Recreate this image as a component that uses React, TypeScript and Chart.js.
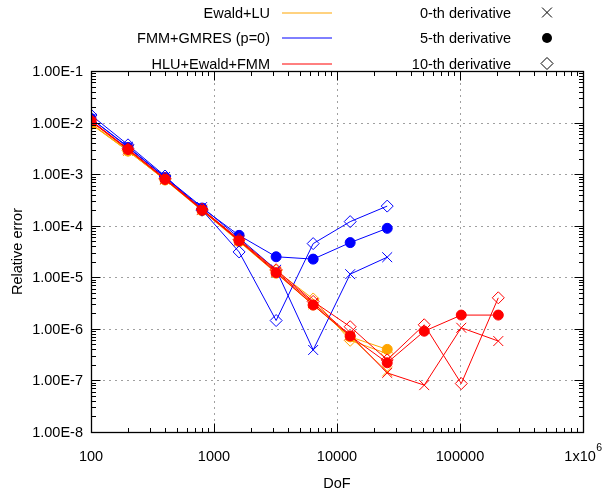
import React, { useEffect, useRef } from 'react';
import { Chart, registerables } from 'chart.js';

Chart.register(...registerables);

// ---------- data ----------
const dof = [100, 200, 400, 800, 1600, 3200, 6400, 12800, 25600, 51200, 102400, 204800];

const ewaldD0 = [9.5e-3, 2.8e-3, 7.8e-4, 2.0e-4, 5.0e-5, 1.25e-5, 3.0e-6, 7.0e-7, 1.5e-7];
const ewaldD5 = [9.3e-3, 2.8e-3, 7.7e-4, 1.95e-4, 4.9e-5, 1.2e-5, 2.9e-6, 7.0e-7, 4.0e-7];
const ewaldD10 = [9.6e-3, 2.9e-3, 8.0e-4, 2.1e-4, 5.3e-5, 1.35e-5, 3.8e-6, 6.0e-7, 3.3e-7];

const fmmD0 = [1.2e-2, 3.4e-3, 8.8e-4, 2.3e-4, 5.8e-5, 1.4e-5, 3.9e-7, 1.15e-5, 2.45e-5];
const fmmD5 = [1.2e-2, 3.3e-3, 8.6e-4, 2.2e-4, 6.5e-5, 2.5e-5, 2.25e-5, 4.7e-5, 8.9e-5];
const fmmD10 = [1.4e-2, 3.7e-3, 9.2e-4, 2.0e-4, 3.1e-5, 1.45e-6, 4.5e-5, 1.2e-4, 2.4e-4];

const hluD0 = [1.05e-2, 3.0e-3, 8.0e-4, 2.05e-4, 5.2e-5, 1.3e-5, 3.2e-6, 7.5e-7, 1.4e-7, 8.1e-8, 1.05e-6, 5.8e-7];
const hluD5 = [1.08e-2, 3.0e-3, 7.9e-4, 2.0e-4, 5.1e-5, 1.23e-5, 2.9e-6, 7.3e-7, 2.2e-7, 9.0e-7, 1.85e-6, 1.85e-6];
const hluD10 = [1.1e-2, 3.1e-3, 8.3e-4, 2.1e-4, 5.4e-5, 1.4e-5, 3.4e-6, 1.1e-6, 2.5e-7, 1.2e-6, 8.7e-8, 4.0e-6];

const methodNames = ['Ewald+LU', 'FMM+GMRES (p=0)', 'HLU+Ewald+FMM'];
const derivNames = ['0-th derivative', '5-th derivative', '10-th derivative'];
const methodColors = ['#ffa500', '#0000ff', '#ff0000'];

const xTickValues = [100, 1000, 10000, 100000, 1000000];
const xTickLabels = ['100', '1000', '10000', '100000', '1x10^6'];
const yTickValues = [1e-8, 1e-7, 1e-6, 1e-5, 1e-4, 1e-3, 1e-2, 1e-1];
const yTickLabels = ['1.00E-8', '1.00E-7', '1.00E-6', '1.00E-5', '1.00E-4', '1.00E-3', '1.00E-2', '1.00E-1'];

const xTitle = 'DoF';
const yTitle = 'Relative error';

// ---------- helpers ----------
const FONT = '14.5px "Liberation Sans", Arial, sans-serif';
const SUPFONT = '10.5px "Liberation Sans", Arial, sans-serif';
const pointStyles = ['crossRot', 'circle', 'rectRot'];
const pointRadii = [7, 5, 6];

function pts(vals: number[]) {
  return vals.map((v, i) => ({ x: dof[i], y: v }));
}

function drawMarker(ctx: CanvasRenderingContext2D, kind: number, x: number, y: number, color: string) {
  ctx.save();
  ctx.strokeStyle = color;
  ctx.fillStyle = color;
  ctx.lineWidth = 1;
  ctx.beginPath();
  if (kind === 0) {
    const d = pointRadii[0] * Math.SQRT1_2;
    ctx.moveTo(x - d, y - d); ctx.lineTo(x + d, y + d);
    ctx.moveTo(x - d, y + d); ctx.lineTo(x + d, y - d);
    ctx.stroke();
  } else if (kind === 1) {
    ctx.arc(x, y, pointRadii[1], 0, Math.PI * 2);
    ctx.fill();
  } else {
    const r = pointRadii[2];
    ctx.moveTo(x - r, y); ctx.lineTo(x, y - r); ctx.lineTo(x + r, y); ctx.lineTo(x, y + r); ctx.closePath();
    ctx.stroke();
  }
  ctx.restore();
}

const gnuplotPlugin = {
  id: 'gnuplotLook',
  beforeDatasetsDraw(chart: any) {
    const { ctx, chartArea: a, scales } = chart;
    const xs = scales.x, ys = scales.y;
    ctx.save();
    ctx.strokeStyle = '#a0a0a0';
    ctx.lineWidth = 1;
    ctx.setLineDash([2, 4]);
    for (const v of xTickValues) {
      const px = Math.round(xs.getPixelForValue(v)) + 0.5;
      if (px > a.left + 2 && px < a.right - 2) {
        ctx.beginPath(); ctx.moveTo(px, a.top); ctx.lineTo(px, a.bottom); ctx.stroke();
      }
    }
    for (const v of yTickValues) {
      const py = Math.round(ys.getPixelForValue(v)) + 0.5;
      if (py > a.top + 2 && py < a.bottom - 2) {
        ctx.beginPath(); ctx.moveTo(a.left, py); ctx.lineTo(a.right, py); ctx.stroke();
      }
    }
    ctx.restore();
  },
  afterDatasetsDraw(chart: any) {
    const { ctx, chartArea: a, scales } = chart;
    const xs = scales.x, ys = scales.y;
    ctx.save();
    ctx.strokeStyle = '#000';
    ctx.lineWidth = 1;
    ctx.setLineDash([]);
    const L = Math.round(a.left) + 0.5, R = Math.round(a.right) + 0.5;
    const T = Math.round(a.top) + 0.5, B = Math.round(a.bottom) + 0.5;
    // ticks
    ctx.beginPath();
    for (let e = 2; e <= 6; e++) {
      for (let m = 1; m <= 9; m++) {
        const v = m * Math.pow(10, e);
        if (v > 1e6) break;
        const px = Math.round(xs.getPixelForValue(v)) + 0.5;
        const len = m === 1 ? 9 : 4.5;
        ctx.moveTo(px, B); ctx.lineTo(px, B - len);
        ctx.moveTo(px, T); ctx.lineTo(px, T + len);
      }
    }
    for (let e = -8; e <= -1; e++) {
      for (let m = 1; m <= 9; m++) {
        const v = m * Math.pow(10, e);
        if (v > 0.1 + 1e-12) break;
        const py = Math.round(ys.getPixelForValue(v)) + 0.5;
        const len = m === 1 ? 9 : 4.5;
        ctx.moveTo(L, py); ctx.lineTo(L + len, py);
        ctx.moveTo(R, py); ctx.lineTo(R - len, py);
      }
    }
    ctx.stroke();
    // border
    ctx.lineWidth = 1.3;
    ctx.strokeRect(L, T, R - L, B - T);

    // tick labels
    ctx.fillStyle = '#000';
    ctx.font = FONT;
    ctx.textBaseline = 'middle';
    ctx.textAlign = 'right';
    yTickValues.forEach((v, i) => {
      const py = ys.getPixelForValue(v);
      ctx.fillText(yTickLabels[i], a.left - 8, py + 1);
    });
    xTickValues.forEach((v, i) => {
      const px = xs.getPixelForValue(v);
      const lab = xTickLabels[i];
      const ty = a.bottom + 25;
      if (lab.includes('^')) {
        const [base, sup] = lab.split('^');
        ctx.font = FONT;
        const wb = ctx.measureText(base).width;
        ctx.font = SUPFONT;
        const ws = ctx.measureText(sup).width;
        const start = px - (wb + ws) / 2;
        ctx.textAlign = 'left';
        ctx.font = FONT;
        ctx.fillText(base, start, ty);
        ctx.font = SUPFONT;
        ctx.fillText(sup, start + wb + 0.5, ty - 9);
        ctx.font = FONT;
      } else {
        ctx.textAlign = 'center';
        ctx.font = FONT;
        ctx.fillText(lab, px, ty);
      }
    });

    // axis titles
    ctx.font = FONT;
    ctx.textAlign = 'center';
    ctx.fillText(xTitle, (a.left + a.right) / 2, 484);
    ctx.save();
    ctx.translate(18, (a.top + a.bottom) / 2);
    ctx.rotate(-Math.PI / 2);
    ctx.fillText(yTitle, 0, 0);
    ctx.restore();

    // legend
    const rowsY = [12.5, 38, 63.5];
    for (let i = 0; i < 3; i++) {
      const y = rowsY[i];
      ctx.textAlign = 'right';
      ctx.fillStyle = '#000';
      ctx.font = FONT;
      ctx.fillText(methodNames[i], 270, y + 1);
      ctx.strokeStyle = methodColors[i];
      ctx.lineWidth = 1;
      ctx.beginPath();
      ctx.moveTo(282, Math.round(y));
      ctx.lineTo(332, Math.round(y));
      ctx.stroke();
      ctx.fillText(derivNames[i], 511, y + 1);
      drawMarker(ctx, i, 547, y, '#000');
    }
    ctx.restore();
  },
};

export default function App() {
  const canvasRef = useRef<HTMLCanvasElement | null>(null);

  useEffect(() => {
    const canvas = canvasRef.current;
    if (!canvas) return;
    const groups = [
      [ewaldD0, ewaldD5, ewaldD10],
      [fmmD0, fmmD5, fmmD10],
      [hluD0, hluD5, hluD10],
    ];
    const datasets: any[] = [];
    groups.forEach((g, mi) => {
      g.forEach((vals, di) => {
        const c = methodColors[mi];
        datasets.push({
          label: `${methodNames[mi]} ${derivNames[di]}`,
          data: pts(vals),
          showLine: true,
          borderColor: c,
          backgroundColor: c,
          borderWidth: 1,
          pointStyle: pointStyles[di],
          pointRadius: pointRadii[di],
          pointBorderWidth: 1,
          pointBorderColor: c,
          pointBackgroundColor: di === 1 ? c : 'rgba(0,0,0,0)',
          order: 10 - mi * 3 - di,
          tension: 0,
        });
      });
    });

    const chart = new Chart(canvas, {
      type: 'scatter',
      data: { datasets },
      options: {
        animation: false,
        responsive: false,
        devicePixelRatio: 1,
        layout: { padding: { left: 91, top: 71, right: 19, bottom: 64 } },
        plugins: { legend: { display: false }, tooltip: { enabled: false } },
        scales: {
          x: { type: 'logarithmic', min: 100, max: 1000000, display: false },
          y: { type: 'logarithmic', min: 1e-8, max: 1e-1, display: false },
        },
        elements: { line: { tension: 0 } },
      },
      plugins: [gnuplotPlugin],
    });
    return () => chart.destroy();
  }, []);

  return (
    <div style={{ position: 'absolute', left: 0, top: 0, width: 602, height: 496, background: '#fff' }}>
      <canvas ref={canvasRef} width={602} height={496} style={{ width: 602, height: 496, display: 'block' }} />
    </div>
  );
}
